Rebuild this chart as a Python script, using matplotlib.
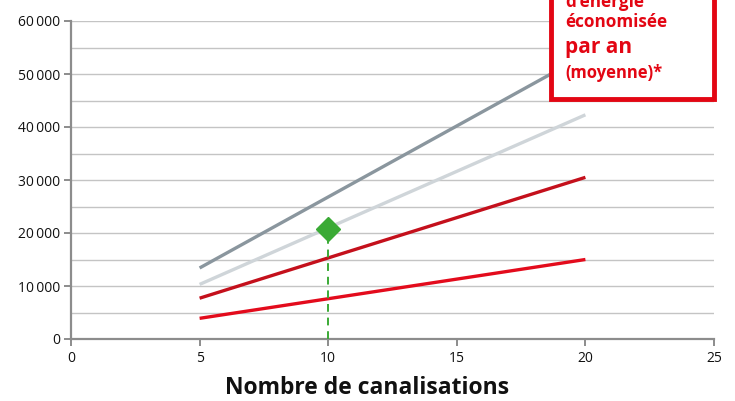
import matplotlib
matplotlib.use("Agg")
import matplotlib.pyplot as plt
from matplotlib.patches import Rectangle
from matplotlib.ticker import FuncFormatter

x_start_end = [5, 20]
series_dark_gray = [13400, 53600]
series_light_gray = [10300, 42300]
series_dark_red = [7700, 30500]
series_red = [3900, 15000]
point_x = [10]
point_y = [20800]
x_ticks = [0, 5, 10, 15, 20, 25]
y_ticks = [0, 10000, 20000, 30000, 40000, 50000, 60000]
box_lines = ["d\u2019énergie", "économisée", "par an", "(moyenne)*"]

plt.rcParams['font.family'] = ['Open Sans', 'DejaVu Sans']

fig = plt.figure(figsize=(7.35, 4.01), dpi=100)
ax = fig.add_axes([71/735, 1-339/401, (714-71)/735, (339-21)/401])

ax.set_xlim(0, 25)
ax.set_ylim(0, 60000)
for yv in range(5000, 60001, 5000):
    ax.axhline(yv, color='#c4c4c4', lw=1.0, zorder=0)

ax.plot(x_start_end, series_dark_gray, color='#8a969e', lw=2.4, solid_capstyle='butt', zorder=3)
ax.plot(x_start_end, series_light_gray, color='#cfd5d9', lw=2.4, solid_capstyle='butt', zorder=3)
ax.plot(x_start_end, series_dark_red, color='#c4101c', lw=2.4, solid_capstyle='butt', zorder=3)
ax.plot(x_start_end, series_red, color='#e30b1c', lw=2.4, solid_capstyle='butt', zorder=3)

ax.plot([point_x[0], point_x[0]], [0, point_y[0]], color='#3aaa35', lw=1.4, ls=(0, (4, 3)), zorder=4)
ax.plot(point_x, point_y, marker='D', color='#3aaa35', markersize=12, zorder=5, ls='none')

ax.set_xticks(x_ticks)
ax.set_yticks(y_ticks)
ax.yaxis.set_major_formatter(FuncFormatter(lambda v, p: f"{int(v):,}".replace(",", "\u2009") if v else "0"))
for s in ['top', 'right']:
    ax.spines[s].set_visible(False)
for s in ['left', 'bottom']:
    ax.spines[s].set_color('#8c8c8c')
    ax.spines[s].set_linewidth(1.6)
ax.tick_params(axis='both', colors='#8c8c8c', length=5, width=1.4, labelcolor='#111111', labelsize=10)
ax.tick_params(axis='y', pad=3)

fig.text(367/735, 1-388/401, "Nombre de canalisations", ha='center', va='center',
         fontsize=16.5, fontweight='bold', color='#111111')

box = Rectangle((551/735, 1-99/401), (714-551)/735, 120/401, transform=fig.transFigure,
                facecolor='white', edgecolor='#e30613', lw=3.5, zorder=10, clip_on=False)
fig.add_artist(box)
fig.text(565/735, 1-2/401, box_lines[0], ha='left', va='center', fontsize=12.3, fontweight='bold', color='#e30613', zorder=11)
fig.text(565/735, 1-22/401, box_lines[1], ha='left', va='center', fontsize=12.3, fontweight='bold', color='#e30613', zorder=11)
fig.text(565/735, 1-47/401, box_lines[2], ha='left', va='center', fontsize=15, fontweight='bold', color='#e30613', zorder=11)
fig.text(565/735, 1-73/401, box_lines[3], ha='left', va='center', fontsize=12, fontweight='bold', color='#e30613', zorder=11)

fig.savefig("out.png", dpi=100)
